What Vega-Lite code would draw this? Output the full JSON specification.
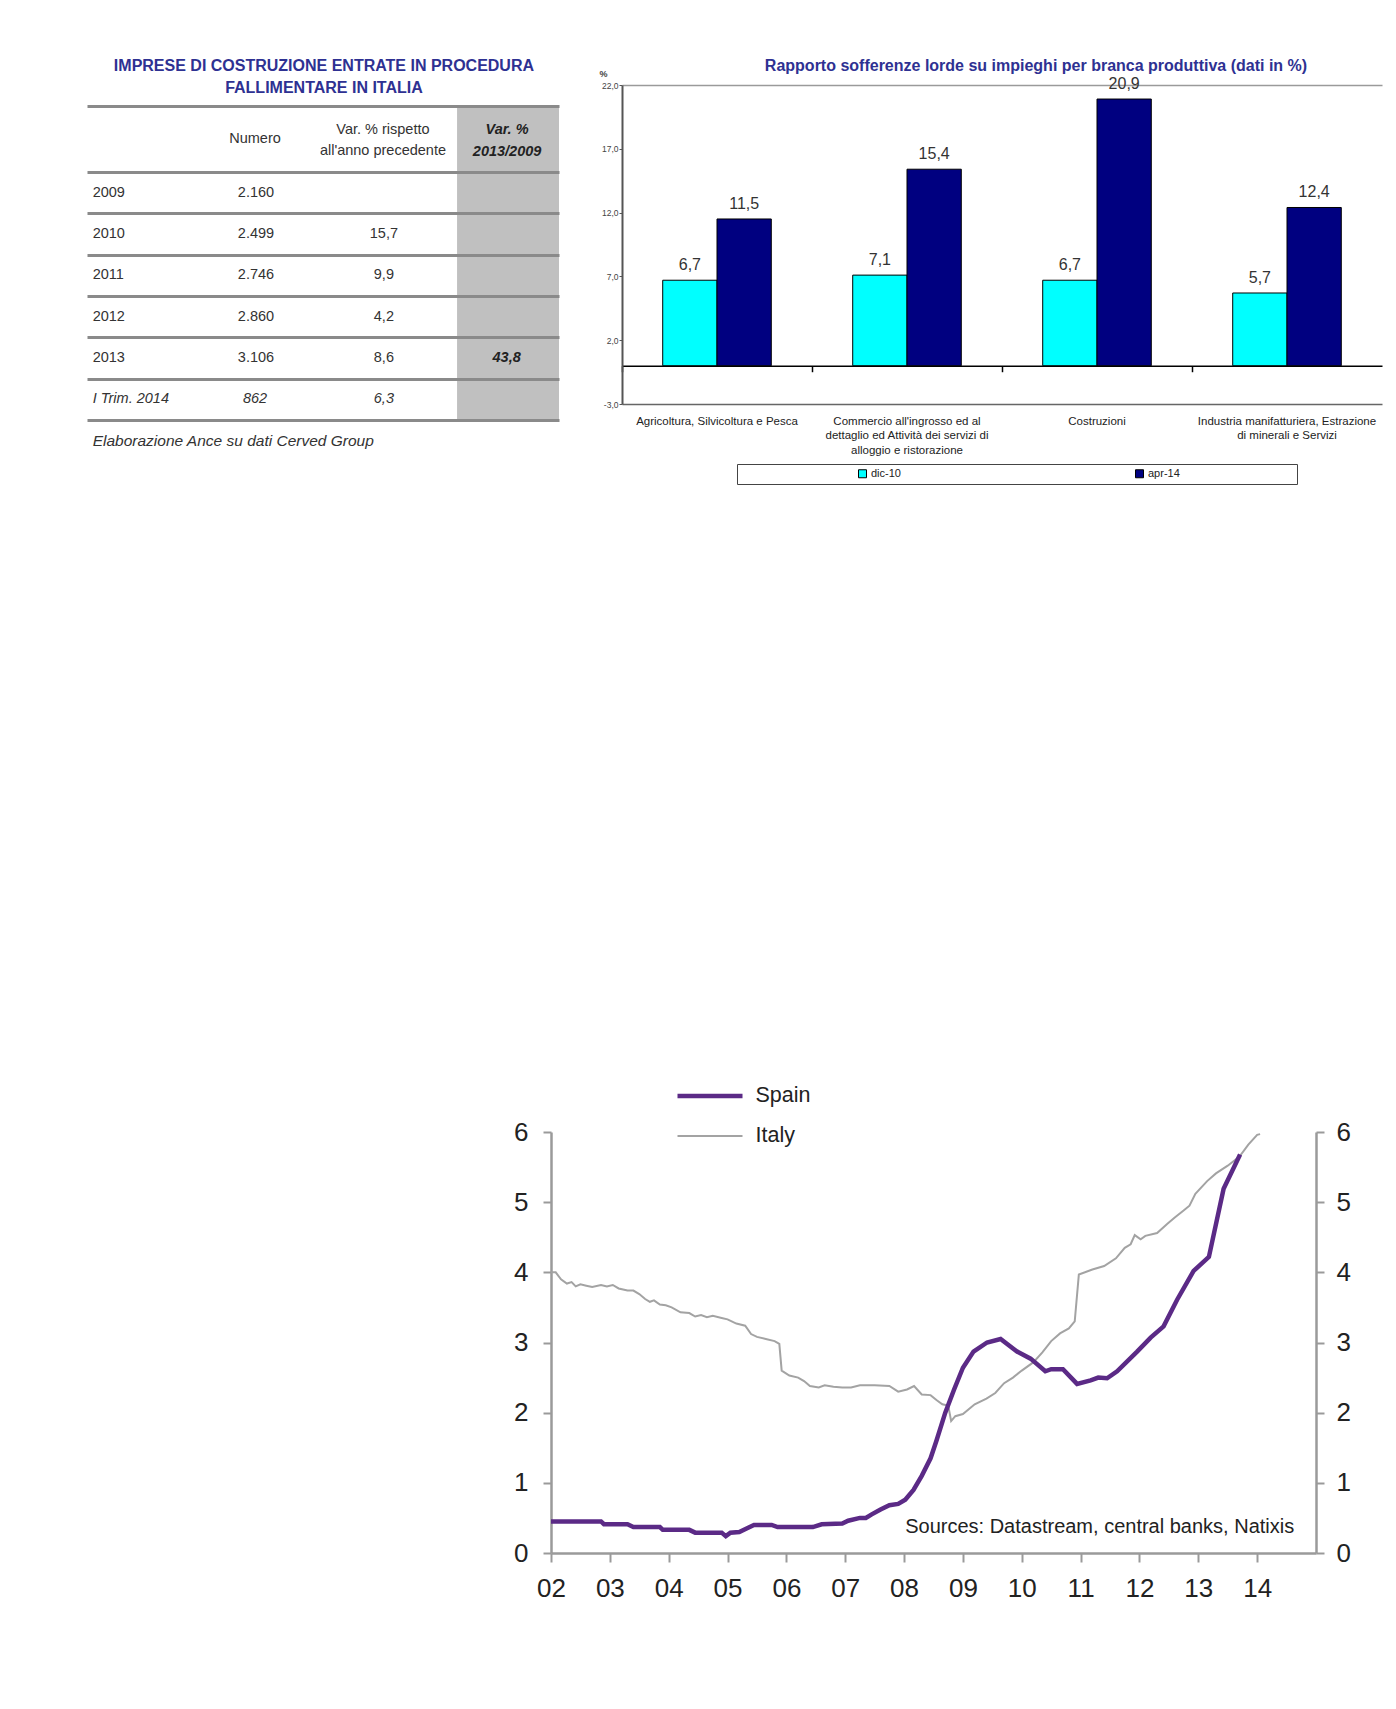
{
  "$schema": "https://vega.github.io/schema/vega-lite/v6.json",
  "background": "white",
  "padding": {"left": 87, "top": 57, "right": 5, "bottom": 5},
  "config": {
    "font": "Liberation Sans",
    "view": {"stroke": null},
    "locale": {"number": {"decimal": ",", "thousands": ".", "grouping": [3], "currency": ["€", ""], "minus": "-"}}
  },
  "resolve": {
    "scale": {"color": "independent", "strokeWidth": "independent"},
    "legend": {"color": "independent", "strokeWidth": "independent"}
  },
  "datasets": {
    "imprese": [
      {"periodo": "2009", "numero": 2160, "var": null, "var_tot": null, "riga": 1},
      {"periodo": "2010", "numero": 2499, "var": 15.7, "var_tot": null, "riga": 2},
      {"periodo": "2011", "numero": 2746, "var": 9.9, "var_tot": null, "riga": 3},
      {"periodo": "2012", "numero": 2860, "var": 4.2, "var_tot": null, "riga": 4},
      {"periodo": "2013", "numero": 3106, "var": 8.6, "var_tot": 43.8, "riga": 5},
      {"periodo": "I Trim. 2014", "numero": 862, "var": 6.3, "var_tot": null, "riga": 6}
    ],
    "sofferenze": [
      {"branca": "Agricoltura, Silvicoltura e Pesca", "periodo": "dic-10", "valore": 6.7},
      {"branca": "Agricoltura, Silvicoltura e Pesca", "periodo": "apr-14", "valore": 11.5},
      {"branca": "Commercio all'ingrosso ed al\ndettaglio ed Attività dei servizi di\nalloggio e ristorazione", "periodo": "dic-10", "valore": 7.1},
      {"branca": "Commercio all'ingrosso ed al\ndettaglio ed Attività dei servizi di\nalloggio e ristorazione", "periodo": "apr-14", "valore": 15.4},
      {"branca": "Costruzioni", "periodo": "dic-10", "valore": 6.7},
      {"branca": "Costruzioni", "periodo": "apr-14", "valore": 20.9},
      {"branca": "Industria manifatturiera, Estrazione\ndi minerali e Servizi", "periodo": "dic-10", "valore": 5.7},
      {"branca": "Industria manifatturiera, Estrazione\ndi minerali e Servizi", "periodo": "apr-14", "valore": 12.4}
    ],
    "tassi": [
      {"paese": "Italy", "anno": 2002.0, "valore": 4.0},
      {"paese": "Italy", "anno": 2002.08, "valore": 4.0},
      {"paese": "Italy", "anno": 2002.17, "valore": 3.9},
      {"paese": "Italy", "anno": 2002.27, "valore": 3.84},
      {"paese": "Italy", "anno": 2002.35, "valore": 3.86},
      {"paese": "Italy", "anno": 2002.42, "valore": 3.8},
      {"paese": "Italy", "anno": 2002.5, "valore": 3.83},
      {"paese": "Italy", "anno": 2002.6, "valore": 3.81},
      {"paese": "Italy", "anno": 2002.7, "valore": 3.79},
      {"paese": "Italy", "anno": 2002.85, "valore": 3.82},
      {"paese": "Italy", "anno": 2002.95, "valore": 3.8},
      {"paese": "Italy", "anno": 2003.05, "valore": 3.82},
      {"paese": "Italy", "anno": 2003.15, "valore": 3.77},
      {"paese": "Italy", "anno": 2003.3, "valore": 3.74},
      {"paese": "Italy", "anno": 2003.4, "valore": 3.74},
      {"paese": "Italy", "anno": 2003.5, "valore": 3.69},
      {"paese": "Italy", "anno": 2003.6, "valore": 3.62},
      {"paese": "Italy", "anno": 2003.68, "valore": 3.58},
      {"paese": "Italy", "anno": 2003.75, "valore": 3.6},
      {"paese": "Italy", "anno": 2003.85, "valore": 3.54},
      {"paese": "Italy", "anno": 2003.95, "valore": 3.53},
      {"paese": "Italy", "anno": 2004.05, "valore": 3.5},
      {"paese": "Italy", "anno": 2004.2, "valore": 3.43},
      {"paese": "Italy", "anno": 2004.35, "valore": 3.42},
      {"paese": "Italy", "anno": 2004.45, "valore": 3.37},
      {"paese": "Italy", "anno": 2004.55, "valore": 3.39},
      {"paese": "Italy", "anno": 2004.65, "valore": 3.36},
      {"paese": "Italy", "anno": 2004.75, "valore": 3.38},
      {"paese": "Italy", "anno": 2004.9, "valore": 3.35},
      {"paese": "Italy", "anno": 2005.0, "valore": 3.33},
      {"paese": "Italy", "anno": 2005.15, "valore": 3.27},
      {"paese": "Italy", "anno": 2005.3, "valore": 3.24},
      {"paese": "Italy", "anno": 2005.4, "valore": 3.12},
      {"paese": "Italy", "anno": 2005.5, "valore": 3.08},
      {"paese": "Italy", "anno": 2005.65, "valore": 3.05},
      {"paese": "Italy", "anno": 2005.8, "valore": 3.02},
      {"paese": "Italy", "anno": 2005.88, "valore": 2.98},
      {"paese": "Italy", "anno": 2005.92, "valore": 2.6},
      {"paese": "Italy", "anno": 2006.05, "valore": 2.53},
      {"paese": "Italy", "anno": 2006.2, "valore": 2.5},
      {"paese": "Italy", "anno": 2006.3, "valore": 2.45},
      {"paese": "Italy", "anno": 2006.4, "valore": 2.38},
      {"paese": "Italy", "anno": 2006.55, "valore": 2.36},
      {"paese": "Italy", "anno": 2006.65, "valore": 2.39},
      {"paese": "Italy", "anno": 2006.8, "valore": 2.37},
      {"paese": "Italy", "anno": 2006.95, "valore": 2.36},
      {"paese": "Italy", "anno": 2007.1, "valore": 2.36},
      {"paese": "Italy", "anno": 2007.25, "valore": 2.39},
      {"paese": "Italy", "anno": 2007.5, "valore": 2.39},
      {"paese": "Italy", "anno": 2007.75, "valore": 2.38},
      {"paese": "Italy", "anno": 2007.9, "valore": 2.3},
      {"paese": "Italy", "anno": 2008.05, "valore": 2.33},
      {"paese": "Italy", "anno": 2008.17, "valore": 2.38},
      {"paese": "Italy", "anno": 2008.3, "valore": 2.26},
      {"paese": "Italy", "anno": 2008.45, "valore": 2.25},
      {"paese": "Italy", "anno": 2008.55, "valore": 2.18},
      {"paese": "Italy", "anno": 2008.65, "valore": 2.12},
      {"paese": "Italy", "anno": 2008.75, "valore": 2.1},
      {"paese": "Italy", "anno": 2008.8, "valore": 1.88},
      {"paese": "Italy", "anno": 2008.87, "valore": 1.95},
      {"paese": "Italy", "anno": 2009.0, "valore": 1.98},
      {"paese": "Italy", "anno": 2009.2, "valore": 2.12},
      {"paese": "Italy", "anno": 2009.4, "valore": 2.2},
      {"paese": "Italy", "anno": 2009.55, "valore": 2.28},
      {"paese": "Italy", "anno": 2009.7, "valore": 2.42},
      {"paese": "Italy", "anno": 2009.85, "valore": 2.5},
      {"paese": "Italy", "anno": 2010.0, "valore": 2.6},
      {"paese": "Italy", "anno": 2010.2, "valore": 2.72},
      {"paese": "Italy", "anno": 2010.35, "valore": 2.86},
      {"paese": "Italy", "anno": 2010.5, "valore": 3.02},
      {"paese": "Italy", "anno": 2010.65, "valore": 3.13},
      {"paese": "Italy", "anno": 2010.8, "valore": 3.2},
      {"paese": "Italy", "anno": 2010.9, "valore": 3.3},
      {"paese": "Italy", "anno": 2010.97, "valore": 3.97},
      {"paese": "Italy", "anno": 2011.2, "valore": 4.04},
      {"paese": "Italy", "anno": 2011.4, "valore": 4.09},
      {"paese": "Italy", "anno": 2011.6, "valore": 4.2},
      {"paese": "Italy", "anno": 2011.75, "valore": 4.35},
      {"paese": "Italy", "anno": 2011.85, "valore": 4.4},
      {"paese": "Italy", "anno": 2011.92, "valore": 4.53},
      {"paese": "Italy", "anno": 2012.02, "valore": 4.47},
      {"paese": "Italy", "anno": 2012.1, "valore": 4.52},
      {"paese": "Italy", "anno": 2012.3, "valore": 4.56},
      {"paese": "Italy", "anno": 2012.47, "valore": 4.69},
      {"paese": "Italy", "anno": 2012.6, "valore": 4.78},
      {"paese": "Italy", "anno": 2012.75, "valore": 4.88},
      {"paese": "Italy", "anno": 2012.85, "valore": 4.95},
      {"paese": "Italy", "anno": 2012.95, "valore": 5.12},
      {"paese": "Italy", "anno": 2013.15, "valore": 5.3},
      {"paese": "Italy", "anno": 2013.3, "valore": 5.41},
      {"paese": "Italy", "anno": 2013.5, "valore": 5.52},
      {"paese": "Italy", "anno": 2013.7, "valore": 5.65},
      {"paese": "Italy", "anno": 2013.85, "valore": 5.82},
      {"paese": "Italy", "anno": 2014.0, "valore": 5.96},
      {"paese": "Italy", "anno": 2014.05, "valore": 5.97},
      {"paese": "Spain", "anno": 2002.0, "valore": 0.45},
      {"paese": "Spain", "anno": 2002.85, "valore": 0.45},
      {"paese": "Spain", "anno": 2002.9, "valore": 0.41},
      {"paese": "Spain", "anno": 2003.3, "valore": 0.41},
      {"paese": "Spain", "anno": 2003.4, "valore": 0.37},
      {"paese": "Spain", "anno": 2003.85, "valore": 0.37},
      {"paese": "Spain", "anno": 2003.9, "valore": 0.33},
      {"paese": "Spain", "anno": 2004.35, "valore": 0.33},
      {"paese": "Spain", "anno": 2004.45, "valore": 0.29},
      {"paese": "Spain", "anno": 2004.9, "valore": 0.29},
      {"paese": "Spain", "anno": 2004.97, "valore": 0.24},
      {"paese": "Spain", "anno": 2005.05, "valore": 0.29},
      {"paese": "Spain", "anno": 2005.2, "valore": 0.3},
      {"paese": "Spain", "anno": 2005.35, "valore": 0.36},
      {"paese": "Spain", "anno": 2005.45, "valore": 0.4},
      {"paese": "Spain", "anno": 2005.75, "valore": 0.4},
      {"paese": "Spain", "anno": 2005.85, "valore": 0.37},
      {"paese": "Spain", "anno": 2006.45, "valore": 0.37},
      {"paese": "Spain", "anno": 2006.6, "valore": 0.41},
      {"paese": "Spain", "anno": 2006.95, "valore": 0.42},
      {"paese": "Spain", "anno": 2007.05, "valore": 0.46},
      {"paese": "Spain", "anno": 2007.25, "valore": 0.5},
      {"paese": "Spain", "anno": 2007.35, "valore": 0.5},
      {"paese": "Spain", "anno": 2007.45, "valore": 0.55},
      {"paese": "Spain", "anno": 2007.6, "valore": 0.62},
      {"paese": "Spain", "anno": 2007.75, "valore": 0.68},
      {"paese": "Spain", "anno": 2007.9, "valore": 0.7},
      {"paese": "Spain", "anno": 2008.02, "valore": 0.76},
      {"paese": "Spain", "anno": 2008.16, "valore": 0.9},
      {"paese": "Spain", "anno": 2008.3, "valore": 1.1},
      {"paese": "Spain", "anno": 2008.45, "valore": 1.35},
      {"paese": "Spain", "anno": 2008.55, "valore": 1.6},
      {"paese": "Spain", "anno": 2008.7, "valore": 2.0},
      {"paese": "Spain", "anno": 2008.85, "valore": 2.33},
      {"paese": "Spain", "anno": 2009.0, "valore": 2.64},
      {"paese": "Spain", "anno": 2009.18, "valore": 2.87},
      {"paese": "Spain", "anno": 2009.41, "valore": 3.0},
      {"paese": "Spain", "anno": 2009.64, "valore": 3.05},
      {"paese": "Spain", "anno": 2009.92, "valore": 2.87},
      {"paese": "Spain", "anno": 2010.15, "valore": 2.77},
      {"paese": "Spain", "anno": 2010.4, "valore": 2.59},
      {"paese": "Spain", "anno": 2010.5, "valore": 2.62},
      {"paese": "Spain", "anno": 2010.7, "valore": 2.62},
      {"paese": "Spain", "anno": 2010.94, "valore": 2.41},
      {"paese": "Spain", "anno": 2011.17, "valore": 2.46},
      {"paese": "Spain", "anno": 2011.3, "valore": 2.5},
      {"paese": "Spain", "anno": 2011.45, "valore": 2.49},
      {"paese": "Spain", "anno": 2011.62, "valore": 2.59},
      {"paese": "Spain", "anno": 2011.96, "valore": 2.87},
      {"paese": "Spain", "anno": 2012.19, "valore": 3.07},
      {"paese": "Spain", "anno": 2012.41, "valore": 3.23},
      {"paese": "Spain", "anno": 2012.64, "valore": 3.61},
      {"paese": "Spain", "anno": 2012.92, "valore": 4.02},
      {"paese": "Spain", "anno": 2013.18, "valore": 4.22},
      {"paese": "Spain", "anno": 2013.43, "valore": 5.19},
      {"paese": "Spain", "anno": 2013.71, "valore": 5.68}
    ]
  },
  "vconcat": [
    {
      "hconcat": [
        {
          "width": 472,
          "height": 335,
          "layer": [
            {
              "data": {"values": [{}]},
              "mark": {"type": "rect", "color": "#c0c0c0"},
              "encoding": {
                "x": {"datum": 78.4, "type": "quantitative", "scale": {"domain": [0, 100], "nice": false, "zero": false}, "axis": null},
                "x2": {"datum": 100},
                "y": {"datum": -1.1, "type": "quantitative", "scale": {"domain": [-1.605, 6.5], "reverse": true, "nice": false, "zero": false},
                  "axis": {"values": [-1.1, 0.5, 1.5, 2.5, 3.5, 4.5, 5.5, 6.5], "grid": true, "gridColor": "#8a8a8a", "gridWidth": 3, "labels": false, "ticks": false, "domain": false, "title": null, "zindex": 1}},
                "y2": {"datum": 6.5}
              }
            },
            {
              "data": {"name": "imprese"},
              "transform": [{"filter": "datum.riga <= 5"}],
              "mark": {"type": "text", "align": "left", "baseline": "middle", "fontSize": 14.5, "color": "#333"},
              "encoding": {
                "x": {"datum": 1.2, "type": "quantitative", "scale": {"domain": [0, 100], "nice": false, "zero": false}, "axis": null},
                "y": {"field": "riga", "type": "quantitative", "scale": {"domain": [-1.605, 6.5], "reverse": true, "nice": false, "zero": false}, "axis": null},
                "text": {"field": "periodo"}
              }
            },
            {
              "data": {"name": "imprese"},
              "transform": [{"filter": "datum.riga == 6"}],
              "mark": {"type": "text", "align": "left", "baseline": "middle", "fontSize": 14.5, "fontStyle": "italic", "color": "#333"},
              "encoding": {
                "x": {"datum": 1.2, "type": "quantitative", "scale": {"domain": [0, 100], "nice": false, "zero": false}, "axis": null},
                "y": {"field": "riga", "type": "quantitative", "scale": {"domain": [-1.605, 6.5], "reverse": true, "nice": false, "zero": false}, "axis": null},
                "text": {"field": "periodo"}
              }
            },
            {
              "data": {"name": "imprese"},
              "transform": [{"filter": "datum.riga <= 5"}],
              "mark": {"type": "text", "align": "center", "baseline": "middle", "fontSize": 14.5, "color": "#333"},
              "encoding": {
                "x": {"datum": 35.8, "type": "quantitative", "scale": {"domain": [0, 100], "nice": false, "zero": false}, "axis": null},
                "y": {"field": "riga", "type": "quantitative", "scale": {"domain": [-1.605, 6.5], "reverse": true, "nice": false, "zero": false}, "axis": null},
                "text": {"field": "numero", "type": "quantitative", "format": ",d"}
              }
            },
            {
              "data": {"name": "imprese"},
              "transform": [{"filter": "datum.riga == 6"}],
              "mark": {"type": "text", "align": "center", "baseline": "middle", "fontSize": 14.5, "fontStyle": "italic", "color": "#333"},
              "encoding": {
                "x": {"datum": 35.6, "type": "quantitative", "scale": {"domain": [0, 100], "nice": false, "zero": false}, "axis": null},
                "y": {"field": "riga", "type": "quantitative", "scale": {"domain": [-1.605, 6.5], "reverse": true, "nice": false, "zero": false}, "axis": null},
                "text": {"field": "numero", "type": "quantitative", "format": ",d"}
              }
            },
            {
              "data": {"name": "imprese"},
              "transform": [{"filter": "datum['var'] != null && datum.riga <= 5"}],
              "mark": {"type": "text", "align": "center", "baseline": "middle", "fontSize": 14.5, "color": "#333"},
              "encoding": {
                "x": {"datum": 62.9, "type": "quantitative", "scale": {"domain": [0, 100], "nice": false, "zero": false}, "axis": null},
                "y": {"field": "riga", "type": "quantitative", "scale": {"domain": [-1.605, 6.5], "reverse": true, "nice": false, "zero": false}, "axis": null},
                "text": {"field": "var", "type": "quantitative", "format": ".1f"}
              }
            },
            {
              "data": {"name": "imprese"},
              "transform": [{"filter": "datum.riga == 6"}],
              "mark": {"type": "text", "align": "center", "baseline": "middle", "fontSize": 14.5, "fontStyle": "italic", "color": "#333"},
              "encoding": {
                "x": {"datum": 62.9, "type": "quantitative", "scale": {"domain": [0, 100], "nice": false, "zero": false}, "axis": null},
                "y": {"field": "riga", "type": "quantitative", "scale": {"domain": [-1.605, 6.5], "reverse": true, "nice": false, "zero": false}, "axis": null},
                "text": {"field": "var", "type": "quantitative", "format": ".1f"}
              }
            },
            {
              "data": {"name": "imprese"},
              "transform": [{"filter": "datum.var_tot != null"}],
              "mark": {"type": "text", "align": "center", "baseline": "middle", "fontSize": 14.5, "fontStyle": "italic", "fontWeight": "bold", "color": "#222"},
              "encoding": {
                "x": {"datum": 88.9, "type": "quantitative", "scale": {"domain": [0, 100], "nice": false, "zero": false}, "axis": null},
                "y": {"field": "riga", "type": "quantitative", "scale": {"domain": [-1.605, 6.5], "reverse": true, "nice": false, "zero": false}, "axis": null},
                "text": {"field": "var_tot", "type": "quantitative", "format": ".1f"}
              }
            },
            {
              "data": {"values": [{}]},
              "mark": {"type": "text", "align": "center", "baseline": "middle", "fontSize": 14.5, "color": "#333"},
              "encoding": {
                "x": {"datum": 35.6, "type": "quantitative", "scale": {"domain": [0, 100], "nice": false, "zero": false}, "axis": null},
                "y": {"datum": -0.3, "type": "quantitative", "scale": {"domain": [-1.605, 6.5], "reverse": true, "nice": false, "zero": false}, "axis": null},
                "text": {"value": "Numero"}
              }
            },
            {
              "data": {"values": [{}]},
              "mark": {"type": "text", "align": "center", "baseline": "middle", "fontSize": 14.5, "lineHeight": 21, "color": "#333"},
              "encoding": {
                "x": {"datum": 62.7, "type": "quantitative", "scale": {"domain": [0, 100], "nice": false, "zero": false}, "axis": null},
                "y": {"datum": -0.516, "type": "quantitative", "scale": {"domain": [-1.605, 6.5], "reverse": true, "nice": false, "zero": false}, "axis": null},
                "text": {"value": ["Var. % rispetto", "all'anno precedente"]}
              }
            },
            {
              "data": {"values": [{}]},
              "mark": {"type": "text", "align": "center", "baseline": "middle", "fontSize": 14.5, "lineHeight": 22, "fontStyle": "italic", "fontWeight": "bold", "color": "#222"},
              "encoding": {
                "x": {"datum": 89.0, "type": "quantitative", "scale": {"domain": [0, 100], "nice": false, "zero": false}, "axis": null},
                "y": {"datum": -0.516, "type": "quantitative", "scale": {"domain": [-1.605, 6.5], "reverse": true, "nice": false, "zero": false}, "axis": null},
                "text": {"value": ["Var. %", "2013/2009"]}
              }
            },
            {
              "data": {"values": [{}]},
              "mark": {"type": "text", "align": "center", "baseline": "middle", "fontSize": 16, "lineHeight": 22, "fontWeight": "bold", "color": "#2E3192"},
              "encoding": {
                "x": {"datum": 50.2, "type": "quantitative", "scale": {"domain": [0, 100], "nice": false, "zero": false}, "axis": null},
                "y": {"datum": -2.065, "type": "quantitative", "scale": {"domain": [-1.605, 6.5], "reverse": true, "nice": false, "zero": false}, "axis": null},
                "text": {"value": ["IMPRESE DI COSTRUZIONE ENTRATE IN PROCEDURA", "FALLIMENTARE IN ITALIA"]}
              }
            },
            {
              "data": {"values": [{}]},
              "mark": {"type": "text", "align": "left", "baseline": "middle", "fontSize": 15.5, "fontStyle": "italic", "color": "#333"},
              "encoding": {
                "x": {"datum": 1.2, "type": "quantitative", "scale": {"domain": [0, 100], "nice": false, "zero": false}, "axis": null},
                "y": {"datum": 7.01, "type": "quantitative", "scale": {"domain": [-1.605, 6.5], "reverse": true, "nice": false, "zero": false}, "axis": null},
                "text": {"value": "Elaborazione Ance su dati Cerved Group"}
              }
            }
          ],
          "resolve": {"axis": {"x": "independent", "y": "independent"}}
        },
        {
          "width": 760,
          "height": 319,
          "title": {"text": "Rapporto sofferenze lorde su impieghi per branca produttiva (dati in %)", "fontSize": 16, "fontWeight": "bold", "color": "#2E3192", "anchor": "middle", "frame": "group", "dx": 34, "baseline": "bottom", "offset": -20.5},
          "data": {"name": "sofferenze"},
          "layer": [
            {
              "mark": {"type": "bar", "stroke": "#000", "strokeWidth": 1},
              "encoding": {
                "x": {"field": "branca", "type": "nominal", "sort": null, "scale": {"paddingInner": 0, "paddingOuter": 0},
                  "axis": {"orient": "bottom", "title": null, "domain": false, "ticks": false, "tickSize": 0, "labelPadding": 11, "labelFontSize": 11.5, "labelColor": "#222", "labelLineHeight": 14.5, "labelAngle": 0, "labelLimit": 400, "labelExpr": "split(datum.label, '\\n')"}},
                "xOffset": {"field": "periodo", "type": "nominal", "sort": ["dic-10", "apr-14"], "scale": {"paddingInner": 0, "paddingOuter": 0.75}},
                "y": {"field": "valore", "type": "quantitative", "scale": {"domain": [-3, 22], "nice": false, "zero": false},
                  "axis": {"values": [-3, 2, 7, 12, 17, 22], "format": ".1f", "labelFontSize": 8.5, "labelColor": "#444", "labelPadding": 1, "tickSize": 3, "tickColor": "#555", "domainColor": "#555", "domainWidth": 2,
                    "grid": true, "gridWidth": 1.5,
                    "gridColor": {"condition": {"test": "datum.value == -3", "value": "#666"}, "value": "#9a9a9a"},
                    "gridOpacity": {"condition": {"test": "datum.value == 22 || datum.value == -3", "value": 1}, "value": 0},
                    "title": "%", "titleAngle": 0, "titleX": -19, "titleY": -12, "titleFontSize": 9, "titleFontWeight": "bold", "titleColor": "#444", "titleAlign": "center", "titleBaseline": "middle"}},
                "y2": {"datum": 0},
                "color": {"field": "periodo", "type": "nominal", "scale": {"domain": ["dic-10", "apr-14"], "range": ["#00FFFF", "#000080"]},
                  "legend": {"orient": "none", "legendX": 650, "legendY": 379, "direction": "horizontal", "title": null, "strokeColor": "#444", "padding": 4, "symbolType": "square", "symbolSize": 64, "symbolStrokeColor": "#000", "symbolStrokeWidth": 1, "labelFontSize": 11, "labelColor": "#222", "labelLimit": 400, "symbolOffset": 116, "labelOffset": 3, "columnPadding": 117, "labelExpr": "datum.label == 'apr-14' ? pad(datum.label, 43, '\u00a0') + '\u200b' : datum.label"}}
              }
            },
            {
              "mark": {"type": "text", "baseline": "middle", "dy": -15, "fontSize": 16, "color": "#333"},
              "encoding": {
                "x": {"field": "branca", "type": "nominal", "sort": null, "scale": {"paddingInner": 0, "paddingOuter": 0},
                  "axis": {"orient": "bottom", "offset": -38.28, "labels": false, "title": null, "domainColor": "#000", "domainWidth": 1.5, "tickColor": "#000", "tickSize": 6, "tickWidth": 1.5, "bandPosition": 0, "grid": false}},
                "xOffset": {"field": "periodo", "type": "nominal", "sort": ["dic-10", "apr-14"], "scale": {"paddingInner": 0, "paddingOuter": 0.75}},
                "y": {"field": "valore", "type": "quantitative", "scale": {"domain": [-3, 22], "nice": false, "zero": false}, "axis": null},
                "text": {"field": "valore", "type": "quantitative", "format": ".1f"}
              }
            }
          ],
          "resolve": {"axis": {"x": "independent", "y": "independent"}}
        }
      ],
      "spacing": 63,
      "bounds": "flush"
    },
    {
      "hconcat": [
        {
          "width": 464,
          "height": 1,
          "data": {"values": []},
          "mark": "point"
        },
        {
          "width": 765,
          "height": 421,
          "layer": [
            {
              "data": {"name": "tassi"},
              "mark": {"type": "line"},
              "encoding": {
                "x": {"field": "anno", "type": "quantitative", "scale": {"domain": [2002, 2015], "nice": false, "zero": false},
                  "axis": {"values": [2002, 2003, 2004, 2005, 2006, 2007, 2008, 2009, 2010, 2011, 2012, 2013, 2014], "labelExpr": "slice(toString(datum.value), 2)", "labelFlush": false, "title": null, "grid": false, "tickSize": 9, "tickWidth": 2, "tickColor": "#9a9a9a", "domainColor": "#9a9a9a", "domainWidth": 2.5, "labelFontSize": 26, "labelColor": "#222", "labelPadding": 13}},
                "y": {"field": "valore", "type": "quantitative", "scale": {"domain": [0, 6], "nice": false},
                  "axis": {"orient": "left", "values": [0, 1, 2, 3, 4, 5, 6], "title": null, "grid": false, "tickSize": 8, "tickWidth": 2, "tickColor": "#9a9a9a", "domainColor": "#9a9a9a", "domainWidth": 2.5, "labelFontSize": 26, "labelColor": "#222", "labelPadding": 15, "labelFlush": false}},
                "color": {"field": "paese", "type": "nominal", "scale": {"domain": ["Spain", "Italy"], "range": ["#5B2A86", "#A3A3A3"]},
                  "legend": {"orient": "none", "legendX": 588, "legendY": -48, "title": null, "symbolType": "stroke", "symbolSize": 4225, "labelFontSize": 21.5, "labelColor": "#222", "labelOffset": 10.5, "clipHeight": 24, "rowPadding": 16, "padding": 0}},
                "strokeWidth": {"field": "paese", "type": "nominal", "scale": {"domain": ["Spain", "Italy"], "range": [4.5, 2]},
                  "legend": {"orient": "none", "legendX": 588, "legendY": -48, "title": null, "symbolType": "stroke", "symbolSize": 4225, "labelFontSize": 21.5, "labelColor": "#222", "labelOffset": 10.5, "clipHeight": 24, "rowPadding": 16, "padding": 0}}
              }
            },
            {
              "data": {"values": [{}]},
              "mark": {"type": "text", "align": "right", "baseline": "middle", "fontSize": 20, "color": "#222"},
              "encoding": {
                "x": {"datum": 2014.63, "type": "quantitative", "scale": {"domain": [2002, 2015], "nice": false, "zero": false}, "axis": null},
                "y": {"datum": 0.37, "type": "quantitative", "scale": {"domain": [0, 6], "nice": false},
                  "axis": {"orient": "right", "values": [0, 1, 2, 3, 4, 5, 6], "title": null, "grid": false, "tickSize": 8, "tickWidth": 2, "tickColor": "#9a9a9a", "domainColor": "#9a9a9a", "domainWidth": 2.5, "labelFontSize": 26, "labelColor": "#222", "labelPadding": 12, "labelFlush": false}},
                "text": {"value": "Sources: Datastream, central banks, Natixis"}
              }
            }
          ],
          "resolve": {"axis": {"x": "independent", "y": "independent"}}
        }
      ],
      "spacing": 0,
      "bounds": "flush"
    }
  ],
  "spacing": 1047,
  "bounds": "flush"
}
